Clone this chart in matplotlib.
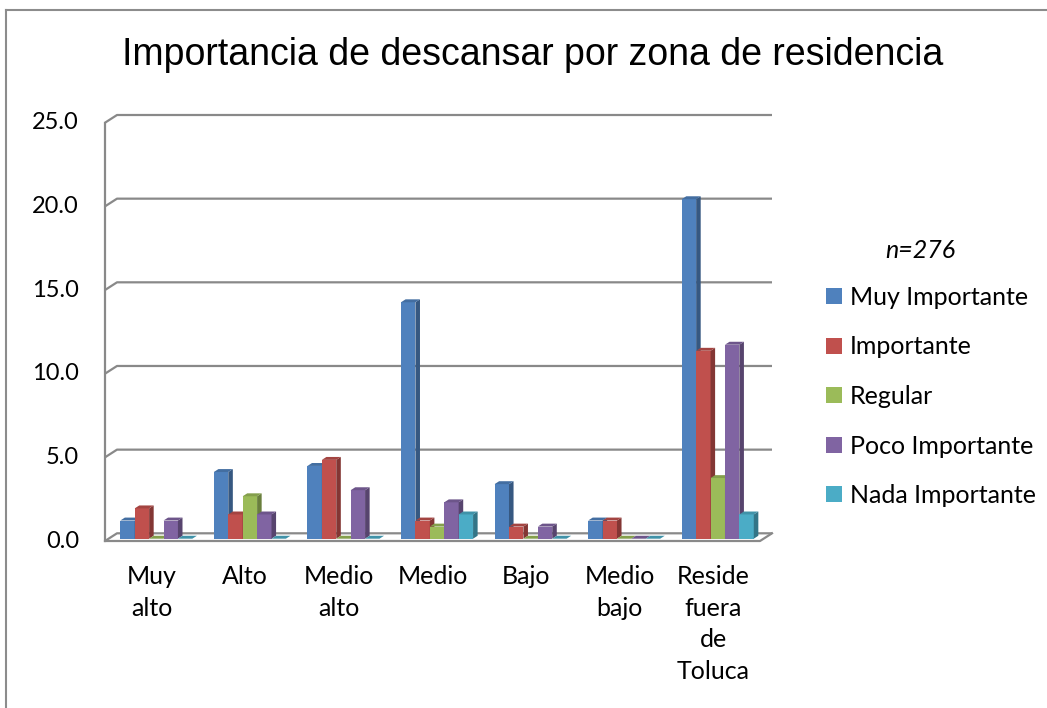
import numpy as np
import matplotlib
matplotlib.use("Agg")
import matplotlib.pyplot as plt
from matplotlib.patches import Polygon, Patch
from matplotlib.colors import to_rgb

# Respondent counts per residence zone (n = 276), shown as percentages
N_TOTAL = 276
zones = ["Muy\nalto", "Alto", "Medio\nalto", "Medio", "Bajo", "Medio\nbajo",
         "Reside\nfuera\nde\nToluca"]
series_names = ["Muy Importante", "Importante", "Regular", "Poco Importante",
                "Nada Importante"]
muy_importante = [3, 11, 12, 39, 9, 3, 56]
importante = [5, 4, 13, 3, 2, 3, 31]
regular = [0, 7, 0, 2, 0, 0, 10]
poco_importante = [3, 4, 8, 6, 2, 0, 32]
nada_importante = [0, 0, 0, 4, 0, 0, 4]
y_ticks = [0, 5, 10, 15, 20, 25]

colors = ["#4F81BD", "#C0504D", "#9BBB59", "#8064A2", "#4BACC6"]
GRID = "#898989"
LABEL_FONT = ["Lato", "DejaVu Sans"]

W, H = 1047, 708
fig = plt.figure(figsize=(W / 100, H / 100), dpi=100)

# front plane of the 3-D box in pixels
x0, x1 = 105, 760
y_zero, y_top = 541, 122.7
ax = fig.add_axes([x0 / W, 1 - y_zero / H, (x1 - x0) / W, (y_zero - y_top) / H])
n_cat = len(zones)
ax.set_xlim(0, n_cat)
ax.set_ylim(0, 25)
ax.axis("off")

# depth of the floor (pixels) converted to data units
px_x = n_cat / (x1 - x0)
px_y = 25 / (y_zero - y_top)
dx = 12 * px_x
dy = 7.7 * px_y


def shade(c, f):
    r, g, b = to_rgb(c)
    return (r * f, g * f, b * f)


# back wall gridlines with the short diagonal on the side wall
for t in y_ticks:
    ax.plot([0, dx, n_cat + dx], [t, t + dy, t + dy], color=GRID, lw=1.6,
            zorder=1, solid_capstyle="butt", clip_on=False)
ax.plot([0, 0], [0, 25], color=GRID, lw=1.6, zorder=1, clip_on=False)
# floor outline
ax.plot([0, n_cat, n_cat + dx], [0, 0, dy], color=GRID, lw=1.6, zorder=1,
        clip_on=False)

values = np.array([muy_importante, importante, regular, poco_importante,
                   nada_importante]) / N_TOTAL * 100

bar_w = 0.154
f0, f1 = 0.30, 0.68
ox0, oy0 = f0 * dx, f0 * dy
ox1, oy1 = f1 * dx, f1 * dy
z = 2
for i in range(n_cat):
    center = i + 0.5 + 0.01
    for k in range(len(series_names)):
        v = values[k, i]
        left = center + (k - 2.5) * bar_w + ox0
        right = left + bar_w
        base = oy0
        top = base + v
        c = colors[k]
        if v > 0:
            ax.bar(left, v, width=bar_w, bottom=base, align="edge", color=c,
                   linewidth=0, zorder=z)
            side = [(right, base), (right + ox1 - ox0, base + oy1 - oy0),
                    (right + ox1 - ox0, top + oy1 - oy0), (right, top)]
            ax.add_patch(Polygon(side, closed=True, facecolor=shade(c, 0.68),
                                 edgecolor="none", zorder=z))
        lid = [(left, top), (right, top), (right + ox1 - ox0, top + oy1 - oy0),
               (left + ox1 - ox0, top + oy1 - oy0)]
        ax.add_patch(Polygon(lid, closed=True, facecolor=shade(c, 0.85),
                             edgecolor="none", zorder=z))
        z += 1

# value axis labels
for t in y_ticks:
    ax.text(-26 * px_x, t, f"{t:.1f}", ha="right", va="center", fontsize=17,
            family=LABEL_FONT, color="black", clip_on=False)

# category labels
for i, name in enumerate(zones):
    ax.text(i + 0.5, -24 * px_y, name, ha="center", va="top", fontsize=18,
            family=LABEL_FONT, linespacing=1.45, clip_on=False)

fig.text(533 / W, 1 - 55 / H, "Importancia de descansar por zona de residencia",
         ha="center", va="center", fontsize=27, family="Liberation Sans")

fig.text(920 / W, 1 - 250 / H, "n=276", ha="center", va="center", fontsize=18,
         style="italic", family=LABEL_FONT)

handles = [Patch(facecolor=c, edgecolor="none") for c in colors]
fig.legend(handles, series_names, loc="upper left",
           bbox_to_anchor=(826 / W, 1 - 286 / H), frameon=False,
           prop={"family": LABEL_FONT, "size": 18}, handlelength=0.62,
           handleheight=0.62, handletextpad=0.35, labelspacing=1.06,
           borderaxespad=0, borderpad=0)

# chart area border (left and top edges)
fig.add_artist(plt.Line2D([6 / W, 6 / W], [0, 1 - 10 / H], color="#8c8c8c",
                          lw=1.5, transform=fig.transFigure))
fig.add_artist(plt.Line2D([6 / W, 1], [1 - 10 / H, 1 - 10 / H], color="#8c8c8c",
                          lw=1.5, transform=fig.transFigure))

fig.savefig("out.png", dpi=100, facecolor="white")
